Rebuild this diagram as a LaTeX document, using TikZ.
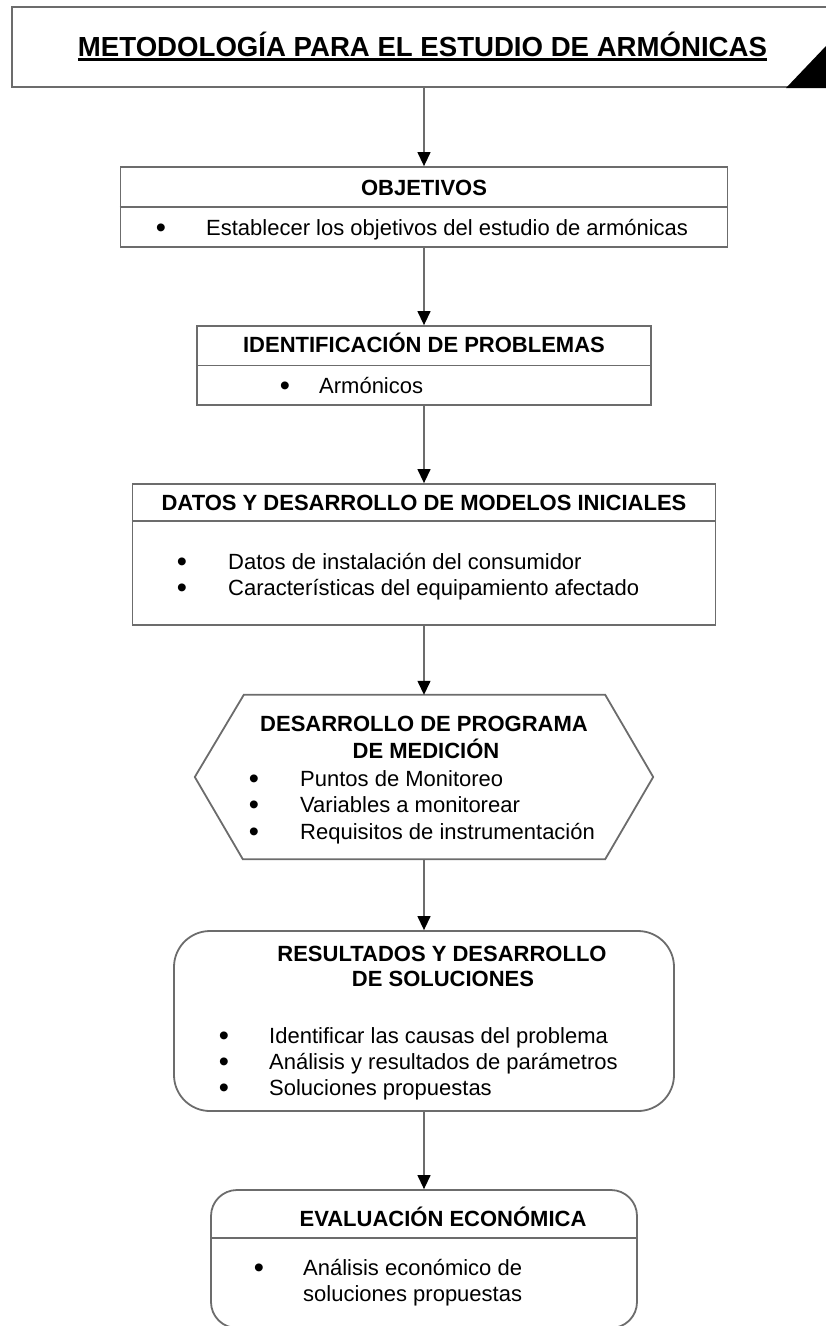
\documentclass[tikz,border=0pt]{standalone}
\usepackage{fontspec}
\setmainfont{Liberation Sans}
\usetikzlibrary{arrows.meta,calc}
\definecolor{edge}{HTML}{6C6C6C}
\begin{document}
\begin{tikzpicture}[x=1pt,y=-1pt,
  boxline/.style={draw=edge,line width=1.8pt},
  frame/.style={boxline,inner sep=0pt},
  ghost/.style={inner sep=0pt},
  arr/.style={draw=edge,line width=1.3pt,-{Triangle[width=13pt,length=14pt,color=black]}},
  hd/.style={font=\bfseries\fontsize{22}{26}\selectfont,anchor=base,inner sep=0pt},
  bd/.style={font=\fontsize{22}{26}\selectfont,anchor=base west,inner sep=0pt},
  bl/.style={font=\fontsize{29}{29}\selectfont,anchor=base,inner sep=0pt,yshift=-2.6pt,text height=13pt,text depth=0pt}]
\useasboundingbox (0,0) rectangle (826,1326);

% title
\node[frame,minimum width=828pt,minimum height=80pt] (title) at (426,47) {};
\fill (786,88) -- (826,46) -- (826,88) -- cycle;
\node[anchor=base,inner sep=0pt,font=\bfseries\fontsize{27.6}{30}\selectfont] (tt) at (422.5,56) {METODOLOGÍA PARA EL ESTUDIO DE ARMÓNICAS};
\draw[line width=2.6pt] ($(tt.base west)+(0,3.6)$) -- ($(tt.base east)+(0,3.6)$);

% boxes
\node[frame,minimum width=607pt,minimum height=80pt] (obj) at (424,207) {};
\draw[boxline] (obj.west) -- (obj.east);
\node[frame,minimum width=454pt,minimum height=79pt] (ident) at (424,365.5) {};
\draw[boxline] (ident.west) -- (ident.east);
\node[frame,minimum width=583pt,minimum height=141pt] (datos) at (424,554.5) {};
\draw[boxline] ($(datos.north west)+(0,38)$) -- ($(datos.north east)+(0,38)$);
\node[ghost,minimum width=458pt,minimum height=164pt] (hex) at (424,777) {};
\draw[boxline,line join=miter] (hex.west) -- ($(hex.north west)+(49,0)$) -- ($(hex.north east)+(-48,0)$) -- (hex.east) -- ($(hex.south east)+(-48,0)$) -- ($(hex.south west)+(48,0)$) -- cycle;
\node[frame,rounded corners=36pt,minimum width=500pt,minimum height=180pt] (res) at (424,1021) {};
\node[frame,rounded corners=26pt,minimum width=426pt,minimum height=138pt] (eval) at (424,1259) {};
\draw[boxline] ($(eval.north west)+(0,49)$) -- ($(eval.north east)+(0,49)$);

% connectors
\draw[arr] (obj.north |- title.south) -- (obj.north);
\draw[arr] (obj.south) -- (ident.north);
\draw[arr] (ident.south) -- (datos.north);
\draw[arr] (datos.south) -- (hex.north);
\draw[arr] (hex.south) -- (res.north);
\draw[arr] (res.south) -- (eval.north);

% texts
\node[hd] (objh) at (424,195) {OBJETIVOS};
\node[bl] (objb) at (161,235) {•};
\node[bd] (objt) at (206,235) {Establecer los objetivos del estudio de armónicas};

\node[hd] (identh) at (424,352) {IDENTIFICACIÓN DE PROBLEMAS};
\node[bl] (identb) at (285,393) {•};
\node[bd] (identt) at (319,393) {Armónicos};

\node[hd] (datosh) at (424,510) {DATOS Y DESARROLLO DE MODELOS INICIALES};
\node[bl] (datosb1) at (182,569) {•};
\node[bd] (datost1) at (228,569) {Datos de instalación del consumidor};
\node[bl] (datosb2) at (182,595) {•};
\node[bd] (datost2) at (228,595) {Características del equipamiento afectado};

\node[hd] (hexh1) at (424,731) {DESARROLLO DE PROGRAMA};
\node[hd] (hexh2) at (426,758) {DE MEDICIÓN};
\node[bl] (hexb1) at (254,786) {•};
\node[bd] (hext1) at (300,786) {Puntos de Monitoreo};
\node[bl] (hexb2) at (254,812) {•};
\node[bd] (hext2) at (300,812) {Variables a monitorear};
\node[bl] (hexb3) at (254,839) {•};
\node[bd] (hext3) at (300,839) {Requisitos de instrumentación};

\node[hd] (resh1) at (442,961) {RESULTADOS Y DESARROLLO};
\node[hd] (resh2) at (443,986) {DE SOLUCIONES};
\node[bl] (resb1) at (224,1043) {•};
\node[bd] (rest1) at (269,1043) {Identificar las causas del problema};
\node[bl] (resb2) at (224,1069) {•};
\node[bd] (rest2) at (269,1069) {Análisis y resultados de parámetros};
\node[bl] (resb3) at (224,1095) {•};
\node[bd] (rest3) at (269,1095) {Soluciones propuestas};

\node[hd] (evalh) at (443,1226) {EVALUACIÓN ECONÓMICA};
\node[bl] (evalb) at (259,1275) {•};
\node[bd] (evalt1) at (303,1275) {Análisis económico de};
\node[bd] (evalt2) at (303,1301) {soluciones propuestas};
\end{tikzpicture}
\end{document}
